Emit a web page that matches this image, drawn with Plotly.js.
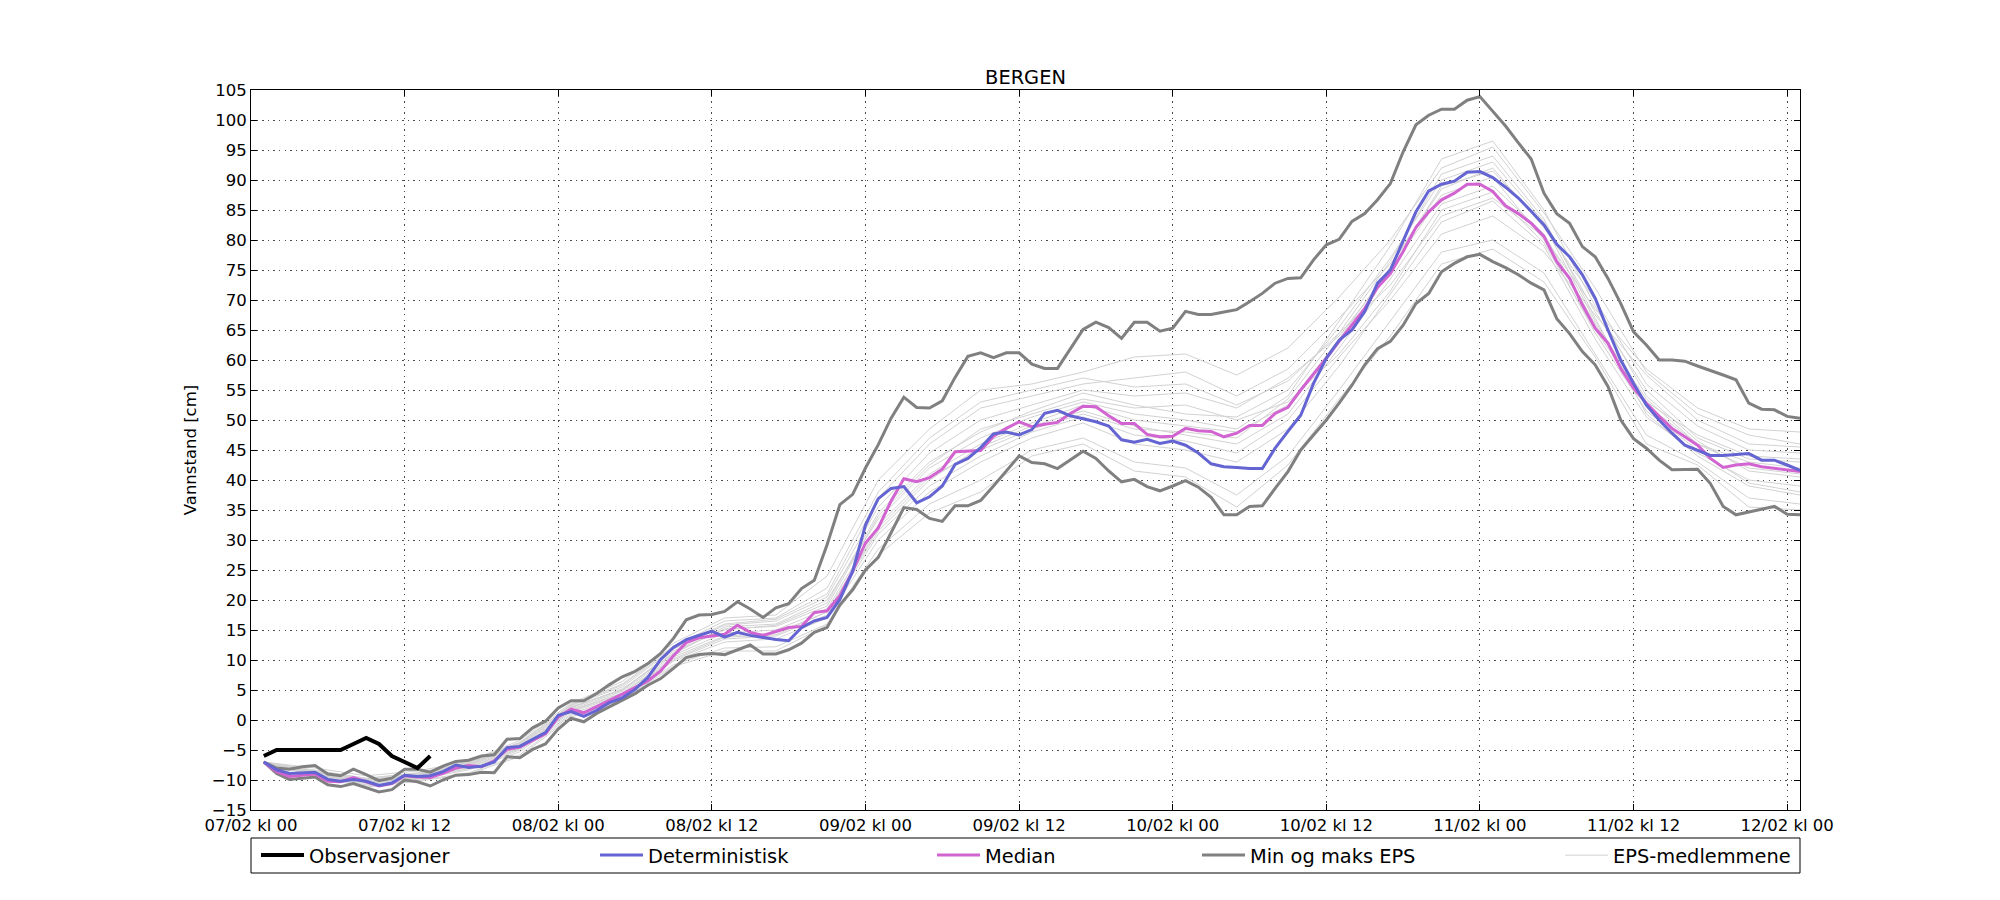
<!DOCTYPE html>
<html><head><meta charset="utf-8">
<script src="https://cdn.plot.ly/plotly-3.0.1.min.js"></script>
<style>html,body{margin:0;padding:0;background:#fff}#chart{width:2000px;height:900px}</style>
</head><body><div id="chart"></div>
<script>
// ---- data (hours after 07/02 kl 00) ----
const tickHours = [0,12,24,36,48,60,72,84,96,108,120];
const tickLabels = ['07/02 kl 00','07/02 kl 12','08/02 kl 00','08/02 kl 12','09/02 kl 00','09/02 kl 12','10/02 kl 00','10/02 kl 12','11/02 kl 00','11/02 kl 12','12/02 kl 00'];

const obsHours = [1,2,3,4,5,6,7,8,9,10,11,12,13,14];
const observasjoner = [-6,-5,-5,-5,-5,-5,-5,-4,-3,-4,-6,-7,-8,-6];

const fcHours = Array.from({length:121},(_,i)=>i+1);

const deterministisk = [
-7.0,-8.3,-8.9,-8.8,-8.7,-9.9,-10.2,-9.9,-10.2,-10.9,-10.5,-9.2,-9.4,-9.3,-8.6,-7.5,-7.9,-7.7,-7.0,-4.6,
-4.4,-3.2,-2.1,0.8,1.4,0.6,1.6,2.9,3.7,5.1,7.1,10.1,12.1,13.4,14.1,14.8,13.8,14.6,14.1,13.7,
13.4,13.2,15.4,16.5,17.1,20.1,24.8,32.5,36.9,38.6,38.9,36.2,37.2,39.0,42.6,43.6,45.4,47.7,48.0,47.5,
48.4,51.1,51.6,50.7,50.2,49.7,49.0,46.7,46.3,46.8,46.1,46.5,45.8,44.5,42.7,42.2,42.1,41.9,41.9,45.3,
48.1,50.8,56.1,60.3,63.3,65.0,68.1,72.8,75.0,80.0,84.7,88.2,89.3,89.8,91.3,91.4,90.4,88.8,87.0,84.8,
82.5,79.3,77.2,74.2,70.3,65.0,60.0,56.1,52.5,50.0,47.8,45.8,45.0,44.1,44.1,44.2,44.4,43.3,43.3,42.5,
41.6];

const median = [
-7.0,-8.6,-9.4,-9.2,-9.0,-10.2,-10.3,-9.6,-10.3,-11.0,-10.6,-9.3,-9.5,-9.6,-8.9,-8.0,-7.6,-7.8,-6.8,-4.9,
-4.5,-3.4,-2.3,0.5,1.8,1.2,2.2,3.3,4.3,5.4,6.5,8.2,10.7,12.9,13.7,14.0,14.3,15.8,14.6,14.1,
14.8,15.4,15.6,17.9,18.2,20.7,24.8,29.5,32.0,36.5,40.2,39.7,40.4,41.8,44.7,44.8,44.9,47.3,48.6,49.7,
48.9,49.3,49.6,51.1,52.3,52.2,50.7,49.4,49.4,47.6,47.2,47.3,48.6,48.2,48.1,47.2,47.8,49.1,49.1,51.1,
52.1,55.0,57.6,60.3,63.1,65.8,68.6,72.1,74.4,78.1,82.1,84.7,86.7,87.8,89.3,89.3,88.1,85.7,84.4,82.8,
80.6,76.4,73.6,69.2,65.3,62.8,58.6,55.3,52.8,50.6,48.6,47.2,45.8,43.6,42.1,42.5,42.7,42.2,41.9,41.7,
41.4];

const maksEPS = [
-7.0,-8.0,-8.2,-7.8,-7.6,-9.0,-9.3,-8.2,-9.1,-10.1,-9.7,-8.2,-8.2,-8.7,-7.7,-6.9,-6.7,-6.0,-5.8,-3.2,
-3.1,-1.3,-0.2,2.0,3.2,3.2,4.4,5.9,7.2,8.1,9.4,11.1,13.6,16.7,17.5,17.6,18.1,19.7,18.5,17.1,
18.7,19.4,21.9,23.3,29.2,35.9,37.6,42.0,45.9,50.3,53.8,52.1,52.0,53.2,57.1,60.6,61.2,60.4,61.2,61.2,
59.3,58.6,58.6,61.8,65.1,66.3,65.4,63.6,66.3,66.3,64.8,65.3,68.1,67.6,67.6,68.0,68.4,69.7,71.1,72.8,
73.6,73.7,76.7,79.2,80.1,83.1,84.4,86.7,89.4,94.7,99.2,100.8,101.8,101.8,103.3,103.9,101.4,99.0,96.2,93.5,
87.8,84.4,82.8,78.9,77.2,73.6,69.4,64.7,62.5,60.0,60.0,59.8,59.0,58.3,57.5,56.7,52.8,51.8,51.7,50.6,
50.3];

const minEPS = [
-7.0,-8.9,-9.9,-9.7,-9.5,-10.8,-11.1,-10.6,-11.3,-12.0,-11.6,-10.0,-10.3,-11.0,-10.0,-9.2,-9.1,-8.7,-8.8,-6.1,
-6.3,-4.9,-4.0,-1.5,0.3,-0.3,1.1,2.2,3.2,4.4,5.8,6.9,8.6,10.4,10.9,11.1,10.9,11.7,12.5,11.0,
11.0,11.7,12.8,14.6,15.4,19.2,21.7,25.0,27.1,31.2,35.4,35.1,33.6,33.1,35.7,35.7,36.6,39.0,41.5,44.0,
42.9,42.7,41.9,43.4,44.8,43.6,41.5,39.7,40.1,38.9,38.2,39.0,39.9,38.8,37.1,34.2,34.2,35.6,35.7,38.6,
41.4,45.0,47.5,50.0,52.8,55.8,59.2,61.9,63.1,65.8,69.4,71.1,74.7,76.1,77.2,77.6,76.4,75.4,74.2,72.8,
71.7,66.9,64.4,61.4,59.2,55.6,50.0,46.9,45.3,43.3,41.7,41.8,41.8,39.4,35.6,34.2,34.7,35.2,35.6,34.3,
34.2];

// EPS members, read every 4 hours
const memberHours = [1,5,9,13,17,21,25,29,33,37,41,45,49,53,57,61,65,69,73,77,81,85,89,93,97,101,105,109,113,117,121];
const member01 = [-7,-8.0,-9.3,-8.5,-6.9,-3.4,2.8,6.4,12.8,17.0,17.5,24.0,40.0,48.5,55.0,56.0,58.0,60.5,61.0,57.5,62.0,70.5,80.0,92.0,95.5,84.5,72.0,58.0,51.0,47.5,46.0];
const member02 = [-7,-8.7,-10.0,-9.2,-7.3,-4.0,2.2,5.0,11.5,15.0,15.8,19.5,34.5,43.0,48.0,51.5,54.5,52.5,51.0,50.5,55.0,65.5,77.0,90.0,93.0,83.0,68.0,55.0,47.0,43.5,43.0];
const member03 = [-7,-9.3,-11.0,-10.1,-8.8,-5.8,0.8,3.6,9.2,12.0,12.2,16.0,28.5,36.0,40.0,45.0,47.0,43.0,42.0,37.5,44.0,55.0,66.5,78.0,80.0,74.5,61.0,47.5,43.0,37.0,36.0];
const member04 = [-7,-9.0,-10.5,-9.6,-7.8,-4.7,1.6,4.5,10.5,14.0,14.5,18.0,31.5,40.0,45.5,49.0,51.5,49.0,47.5,46.0,51.0,62.0,73.5,86.0,89.0,81.0,66.0,53.5,46.0,42.0,41.0];
const member05 = [-7,-8.4,-9.7,-8.8,-7.1,-3.8,2.5,5.8,12.0,16.0,16.8,21.0,37.0,46.0,52.0,54.0,56.0,57.0,58.0,54.0,58.5,67.0,76.0,88.5,92.0,82.0,70.0,56.0,49.0,45.0,44.5];
const member06 = [-7,-9.2,-10.8,-9.9,-8.3,-5.3,1.0,4.0,9.8,13.0,13.5,17.0,30.0,38.0,43.0,47.0,49.5,46.0,45.0,43.0,48.5,59.0,71.0,83.0,86.5,79.0,63.5,50.5,44.5,40.0,39.0];
const member07 = [-7,-8.8,-10.1,-9.0,-7.5,-4.2,2.0,5.2,11.0,15.5,16.0,20.0,33.5,42.0,47.0,50.5,53.0,51.0,50.0,48.5,54.0,66.5,79.0,93.5,96.5,85.0,69.0,54.0,46.5,41.5,40.5];
const member08 = [-7,-9.1,-10.6,-9.7,-8.1,-5.0,1.3,4.2,10.0,13.5,14.0,17.5,31.0,39.0,44.0,48.0,50.5,47.5,46.5,44.5,50.0,60.5,70.0,81.0,84.0,78.0,67.5,57.5,50.0,46.0,45.5];
const member09 = [-7,-8.6,-9.9,-9.1,-7.0,-3.7,2.4,5.5,11.8,15.8,16.5,20.5,35.5,44.5,50.0,52.5,55.0,54.0,54.5,52.0,57.0,64.0,75.0,87.5,90.5,80.0,64.5,51.5,45.0,39.5,38.0];
const member10 = [-7,-9.4,-11.2,-10.2,-9.0,-6.1,0.5,3.4,8.9,11.5,11.5,15.8,27.5,34.5,38.0,44.0,46.0,41.5,40.5,35.5,42.5,53.5,64.0,76.0,78.5,73.0,60.5,46.0,42.5,35.5,35.0];
const member11 = [-7,-8.9,-10.3,-9.4,-7.6,-4.5,1.8,4.8,10.8,14.5,15.0,18.5,32.5,41.0,46.0,49.5,52.5,50.0,49.0,48.0,52.5,63.5,75.5,89.0,91.5,82.5,66.5,52.5,46.0,43.0,42.0];
const member12 = [-7,-8.5,-9.8,-8.9,-7.2,-3.9,2.6,6.0,12.3,16.5,17.0,22.0,38.0,47.0,53.0,55.0,57.0,55.5,56.0,52.5,56.5,64.5,72.5,84.0,87.0,80.5,68.5,58.5,52.0,48.5,48.0];
const member13 = [-7,-9.0,-10.4,-9.5,-7.9,-4.8,1.5,4.4,10.2,13.8,14.2,18.0,32.0,40.5,45.0,48.5,51.0,48.5,48.0,47.0,53.5,64.5,76.5,91.0,94.0,83.5,67.0,51.0,44.0,39.0,37.5];
const member14 = [-7,-8.7,-10.1,-9.3,-7.4,-4.3,2.1,5.0,11.2,15.2,15.6,19.0,34.0,42.5,48.5,51.0,53.5,52.0,52.5,50.0,53.0,61.0,71.5,85.0,88.0,79.5,65.0,53.0,47.5,44.0,43.5];
const members = [member01,member02,member03,member04,member05,member06,member07,member08,member09,member10,member11,member12,member13,member14];

// ---- styles ----
const FONT = 'DejaVu Sans, Liberation Sans, sans-serif';
const cObs = '#000000', cDet = '#6464d2', cMed = '#d264d2', cMinMax = '#808080', cMem = '#d2d2d2';

const traces = [];
members.forEach((m, i) => {
  traces.push({x: memberHours, y: m, type: 'scatter', mode: 'lines',
    line: {color: cMem, width: 1}, name: 'EPS-medlemmene',
    legend: 'legend5', showlegend: i === 0, hoverinfo: 'skip'});
});
traces.push({x: fcHours, y: minEPS, type: 'scatter', mode: 'lines', line: {color: cMinMax, width: 3},
  name: 'Min og maks EPS', legend: 'legend4', showlegend: true});
traces.push({x: fcHours, y: maksEPS, type: 'scatter', mode: 'lines', line: {color: cMinMax, width: 3},
  name: 'Min og maks EPS', legend: 'legend4', showlegend: false});
traces.push({x: fcHours, y: median, type: 'scatter', mode: 'lines', line: {color: cMed, width: 3},
  name: 'Median', legend: 'legend3'});
traces.push({x: fcHours, y: deterministisk, type: 'scatter', mode: 'lines', line: {color: cDet, width: 3},
  name: 'Deterministisk', legend: 'legend2'});
traces.push({x: obsHours, y: observasjoner, type: 'scatter', mode: 'lines', line: {color: cObs, width: 4},
  name: 'Observasjoner', legend: 'legend'});

const L = 251, R = 200, T = 90, B = 90, W = 2000, H = 900;
const pw = W - L - R, ph = H - T - B;
const px2x = p => (p - L) / pw;
const py2y = p => (H - B - p) / ph;
const legY = py2y(855.5);
function leg(xpx) {
  return {x: px2x(xpx), xanchor: 'left', y: legY, yanchor: 'middle', orientation: 'h',
    bgcolor: 'rgba(0,0,0,0)', borderwidth: 0, font: {family: FONT, size: 19.4, color: '#000'},
    itemwidth: 43};
}

const layout = {
  width: W, height: H,
  margin: {l: L, r: R, t: T, b: B, pad: 0},
  paper_bgcolor: '#fff', plot_bgcolor: '#fff',
  font: {family: FONT, color: '#000'},
  title: {text: 'BERGEN', font: {family: FONT, size: 19.4, color: '#000'},
    x: 0.5, xref: 'paper', xanchor: 'center', y: (H - 84) / H, yref: 'container', yanchor: 'bottom'},
  xaxis: {range: [0, 121], tickmode: 'array', tickvals: tickHours, ticktext: tickLabels,
    ticks: 'inside', ticklen: 6, tickcolor: '#000', tickwidth: 1,
    showline: true, linecolor: '#000', linewidth: 1, mirror: 'ticks',
    showgrid: true, gridcolor: '#000', gridwidth: 0.7, griddash: '1.4px,4.2px',
    zeroline: false, tickfont: {family: FONT, size: 16.5, color: '#000'}},
  yaxis: {range: [-15, 105], tickmode: 'linear', tick0: -15, dtick: 5,
    ticks: 'inside', ticklen: 6, tickcolor: '#000', tickwidth: 1,
    showline: true, linecolor: '#000', linewidth: 1, mirror: 'ticks',
    showgrid: true, gridcolor: '#000', gridwidth: 0.7, griddash: '1.4px,4.2px',
    zeroline: false, tickfont: {family: FONT, size: 16.5, color: '#000'},
    title: {text: 'Vannstand [cm]', font: {family: FONT, size: 16.5, color: '#000'}, standoff: 11}},
  showlegend: true,
  legend: leg(256), legend2: leg(595), legend3: leg(932), legend4: leg(1197), legend5: leg(1560),
  shapes: [{type: 'rect', xref: 'paper', yref: 'paper', x0: 0, x1: px2x(1800),
    y0: py2y(838), y1: py2y(873), line: {color: '#000', width: 1}, fillcolor: 'rgba(0,0,0,0)'}]
};

Plotly.newPlot('chart', traces, layout, {displayModeBar: false, staticPlot: true});
</script>
</body></html>
